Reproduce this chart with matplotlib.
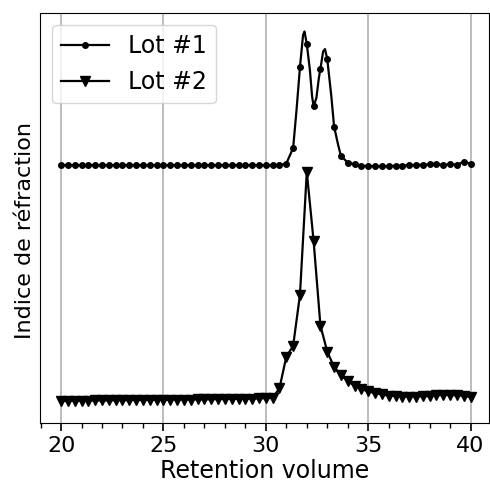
import numpy as np
import matplotlib
matplotlib.use("Agg")
import matplotlib.pyplot as plt
from matplotlib.ticker import MultipleLocator

# retention volume, sampled every 1/3
volume = np.linspace(20, 40, 61)

# Lot #1 (shifted up)
lot1 = [1.029, 1.029, 1.029, 1.029, 1.029, 1.029, 1.029, 1.029, 1.029, 1.029,
        1.029, 1.029, 1.029, 1.029, 1.029, 1.029, 1.029, 1.029, 1.029, 1.029,
        1.029, 1.029, 1.029, 1.029, 1.029, 1.029, 1.029, 1.029, 1.029, 1.029,
        1.029, 1.028, 1.029, 1.036, 1.103, 1.453, 1.553, 1.283, 1.446, 1.488,
        1.196, 1.069, 1.040, 1.033, 1.026, 1.025, 1.024, 1.024, 1.025, 1.026,
        1.027, 1.028, 1.030, 1.031, 1.032, 1.032, 1.031, 1.032, 1.031, 1.043,
        1.035]
# extra points of the smooth Lot #1 curve between markers (no marker there)
lot1_curve_x = [31.50, 31.82, 31.89, 32.15, 32.26, 32.47, 32.59, 32.80,
                32.89, 33.20, 33.53]
lot1_curve_y = [1.268, 1.593, 1.607, 1.442, 1.326, 1.320, 1.406, 1.521,
                1.531, 1.326, 1.117]

# Lot #2
lot2 = [0.009, 0.009, 0.010, 0.010, 0.010, 0.011, 0.011, 0.011, 0.012, 0.012,
        0.012, 0.013, 0.013, 0.013, 0.014, 0.014, 0.014, 0.015, 0.015, 0.015,
        0.016, 0.016, 0.016, 0.017, 0.017, 0.018, 0.018, 0.019, 0.019, 0.020,
        0.021, 0.022, 0.064, 0.200, 0.247, 0.468, 1.000, 0.701, 0.335, 0.222,
        0.156, 0.121, 0.095, 0.074, 0.061, 0.050, 0.043, 0.037, 0.032, 0.030,
        0.028, 0.028, 0.028, 0.029, 0.030, 0.033, 0.035, 0.034, 0.034, 0.031,
        0.026]

labels = ['Lot #1', 'Lot #2']

# merge curve points into Lot #1 line, markers only on sampled points
x1 = np.concatenate([volume, lot1_curve_x])
y1 = np.concatenate([lot1, lot1_curve_y])
order = np.argsort(x1, kind='stable')
x1 = x1[order]
y1 = y1[order]
marks = [i for i, j in enumerate(order) if j < len(volume)]

plt.rcParams['font.family'] = 'DejaVu Sans'

fig = plt.figure(figsize=(4.9, 4.92), dpi=100)
ax = fig.add_axes([0.082, 0.140, 0.916, 0.834])

ax.plot(x1, y1, color='black', lw=1.6, marker='o', ms=4, markevery=marks,
        label=labels[0])
ax.plot(volume, lot2, color='black', lw=1.6, marker='v', ms=7,
        label=labels[1])

ax.set_xlim(18.98, 40.9)
ax.set_ylim(-0.087, 1.688)
ax.xaxis.set_major_locator(MultipleLocator(5))
ax.xaxis.set_minor_locator(MultipleLocator(1))
ax.set_yticks([])
ax.tick_params(axis='x', which='major', length=6, width=1.2, labelsize=16)
ax.tick_params(axis='x', which='minor', length=3.5, width=1.0)
ax.grid(axis='x', color='#b0b0b0', lw=1.2)
ax.set_axisbelow(True)

ax.set_xlabel('Retention volume', fontsize=17, labelpad=2)
ax.set_ylabel('Indice de réfraction', fontsize=16, y=0.47)
ax.legend(loc='upper left', fontsize=17, handlelength=2.0,
          borderaxespad=0.5)

fig.savefig('out.png', dpi=100)
